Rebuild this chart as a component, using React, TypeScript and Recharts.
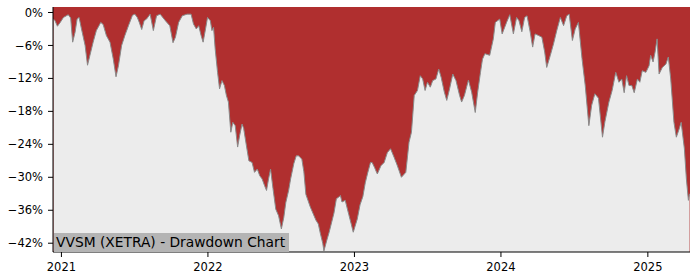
import React from 'react';
import { ComposedChart, Area, XAxis, YAxis, CartesianGrid } from 'recharts';

const dates: string[] = [
  '2020-12-12','2020-12-16','2020-12-22','2020-12-29','2021-01-06','2021-01-18','2021-01-24','2021-01-29','2021-02-04','2021-02-09',
  '2021-02-14','2021-02-20','2021-03-01','2021-03-07','2021-03-13','2021-03-21','2021-03-29','2021-04-09','2021-04-15','2021-04-23',
  '2021-05-02','2021-05-10','2021-05-17','2021-05-23','2021-05-31','2021-06-08','2021-06-17','2021-06-27','2021-07-03','2021-07-09',
  '2021-07-14','2021-07-20','2021-07-26','2021-08-01','2021-08-10','2021-08-18','2021-08-26','2021-09-04','2021-09-17','2021-09-28',
  '2021-10-06','2021-10-12','2021-10-20','2021-10-29','2021-11-10','2021-11-20','2021-11-26','2021-12-03','2021-12-09','2021-12-15',
  '2021-12-20','2021-12-26','2021-12-31','2022-01-07','2022-01-11','2022-01-15','2022-01-19','2022-01-25','2022-01-30','2022-02-05',
  '2022-02-11','2022-02-16','2022-02-21','2022-02-27','2022-03-04','2022-03-10','2022-03-16','2022-03-21','2022-03-27','2022-03-31',
  '2022-04-07','2022-04-13','2022-04-21','2022-04-27','2022-05-04','2022-05-10','2022-05-16','2022-05-22','2022-05-27','2022-06-01',
  '2022-06-06','2022-06-12','2022-06-19','2022-06-26','2022-07-03','2022-07-09','2022-07-14','2022-07-21','2022-07-26','2022-08-03',
  '2022-08-09','2022-08-15','2022-08-23','2022-08-28','2022-09-02','2022-09-13','2022-09-27','2022-10-03','2022-10-08','2022-10-14',
  '2022-10-17','2022-10-24','2022-10-30','2022-11-11','2022-11-17','2022-11-23','2022-11-27','2022-12-01','2022-12-09','2022-12-18',
  '2022-12-24','2022-12-29','2023-01-08','2023-01-15','2023-01-22','2023-01-28','2023-02-03','2023-02-10','2023-02-14','2023-02-20',
  '2023-02-27','2023-03-08','2023-03-16','2023-03-24','2023-04-01','2023-04-10','2023-04-18','2023-04-28','2023-05-09','2023-05-17',
  '2023-05-23','2023-05-30','2023-06-07','2023-06-14','2023-06-20','2023-06-26','2023-07-02','2023-07-09','2023-07-15','2023-07-23',
  '2023-07-30','2023-08-05','2023-08-13','2023-08-19','2023-08-26','2023-09-03','2023-09-11','2023-09-20','2023-09-25','2023-10-02',
  '2023-10-12','2023-10-20','2023-10-29','2023-11-04','2023-11-11','2023-11-16','2023-11-22','2023-12-04','2023-12-13','2023-12-18',
  '2023-12-29','2024-01-04','2024-01-15','2024-01-23','2024-02-01','2024-02-09','2024-02-15','2024-02-22','2024-02-29','2024-03-06',
  '2024-03-14','2024-03-20','2024-03-26','2024-04-04','2024-04-12','2024-04-19','2024-04-24','2024-05-03','2024-05-11','2024-05-19',
  '2024-05-28','2024-06-05','2024-06-13','2024-06-19','2024-06-27','2024-07-04','2024-07-12','2024-07-21','2024-07-29','2024-08-07',
  '2024-08-14','2024-08-22','2024-08-31','2024-09-10','2024-09-16','2024-09-26','2024-10-04','2024-10-13','2024-10-21','2024-10-28',
  '2024-11-03','2024-11-09','2024-11-15','2024-11-22','2024-11-28','2024-12-06','2024-12-12','2024-12-18','2024-12-27','2025-01-04',
  '2025-01-08','2025-01-14','2025-01-19','2025-01-24','2025-01-29','2025-02-06','2025-02-15','2025-02-21','2025-02-27','2025-03-07',
  '2025-03-13','2025-03-20','2025-03-25','2025-04-02','2025-04-07','2025-04-12','2025-04-15',
];

const drawdown: number[] = [
  -1.2,-1.5,-2.5,-1.8,-0.9,-0.4,-1.0,-5.4,-3.6,-1.2,
  -0.9,-3.0,-6.0,-9.6,-7.8,-5.4,-3.3,-1.8,-2.2,-4.2,
  -5.4,-8.4,-11.7,-9.7,-6.0,-4.2,-2.4,-0.5,-0.3,-0.9,
  -1.8,-3.1,-1.5,-1.2,-0.3,-3.3,-0.6,-0.3,-1.5,-2.4,
  -5.5,-4.5,-1.8,-0.6,-0.3,-0.3,-2.1,-3.0,-2.4,-4.2,
  -5.4,-3.0,-0.9,-1.5,-3.3,-2.7,-6.6,-10.9,-13.9,-12.4,
  -13.3,-15.1,-16.3,-21.8,-20.0,-20.6,-24.5,-22.4,-20.3,-21.1,
  -24.3,-27.0,-27.3,-29.1,-28.5,-29.7,-30.3,-31.5,-32.4,-30.3,
  -28.5,-32.0,-35.8,-37.0,-39.4,-37.3,-34.6,-32.4,-30.3,-27.5,
  -26.1,-26.1,-26.7,-29.0,-33.1,-35.4,-37.8,-38.5,-40.2,-42.0,
  -43.4,-41.5,-40.0,-36.5,-33.9,-33.6,-33.3,-34.5,-34.2,-36.8,
  -38.5,-40.0,-37.6,-35.0,-33.5,-31.0,-29.2,-27.3,-27.3,-28.2,
  -29.4,-27.9,-27.3,-25.5,-24.8,-26.4,-27.9,-30.0,-29.1,-23.6,
  -21.8,-15.1,-14.2,-11.5,-12.1,-14.2,-12.7,-13.6,-12.4,-12.1,
  -10.3,-11.8,-14.5,-16.0,-13.9,-11.2,-12.4,-15.1,-16.3,-15.1,
  -12.3,-14.5,-18.2,-14.5,-10.9,-8.5,-7.5,-7.8,-4.8,-1.8,
  -1.2,-3.9,-1.8,-0.4,-3.9,-0.9,-1.5,-3.5,-0.9,-0.6,
  -3.6,-6.3,-3.9,-4.2,-4.5,-7.2,-10.0,-7.8,-5.7,-3.3,
  -0.9,-2.4,-0.6,-0.3,-5.1,-3.0,-1.8,-8.4,-13.3,-20.6,
  -16.9,-14.8,-15.6,-22.7,-19.9,-16.3,-14.2,-10.9,-12.7,-12.1,
  -14.6,-11.5,-13.3,-13.3,-14.6,-12.1,-12.7,-10.6,-10.9,-9.7,
  -7.8,-9.0,-7.2,-4.8,-11.2,-10.0,-9.4,-8.1,-12.1,-20.0,
  -22.7,-21.2,-20.0,-24.8,-30.3,-34.2,-33.0,
];

const yearTicks: string[] = ['2021-01-01', '2022-01-01', '2023-01-01', '2024-01-01', '2025-01-01'];
const yTicks: number[] = [0, -6, -12, -18, -24, -30, -36, -42];
const title = 'VVSM (XETRA) - Drawdown Chart';

const X_MIN = Date.parse('2020-12-11');
const X_MAX = Date.parse('2025-04-16');
const Y_MIN = -43.6;
const Y_MAX = 1.0;

const data = dates.map((d, i) => ({ t: Date.parse(d), dd: drawdown[i] }));
const xTickValues = yearTicks.map((d) => Date.parse(d));

const FONT = '"DejaVu Sans", sans-serif';
const fmtPct = (v: number) => (v < 0 ? '\u2212' + Math.abs(v) + '%' : v + '%');
const fmtYear = (v: number) => String(new Date(v).getUTCFullYear());

export default function App() {
  return (
    <div style={{ position: 'absolute', left: 0, top: 0, width: 700, height: 280, background: '#fff' }}>
      <ComposedChart
        width={700}
        height={280}
        data={data}
        margin={{ top: 7, right: 10, bottom: 0, left: 0 }}
      >
        <CartesianGrid fill="#b02f2f" horizontal={false} vertical={false} stroke="none" />
        <XAxis
          dataKey="t"
          type="number"
          scale="time"
          domain={[X_MIN, X_MAX]}
          ticks={xTickValues}
          tickFormatter={fmtYear}
          height={28}
          tickSize={5}
          tickMargin={6}
          stroke="#000"
          tick={{ fill: '#000', fontSize: 11.5, fontFamily: FONT }}
          allowDataOverflow
        />
        <XAxis
          xAxisId="top"
          orientation="top"
          type="number"
          domain={[0, 1]}
          height={0}
          tick={false}
          tickLine={false}
          stroke="#000"
        />
        <YAxis
          type="number"
          domain={[Y_MIN, Y_MAX]}
          ticks={yTicks}
          tickFormatter={fmtPct}
          width={53}
          tickSize={5}
          tickMargin={5}
          stroke="#000"
          tick={{ fill: '#000', fontSize: 11.5, fontFamily: FONT }}
          allowDataOverflow
        />
        <YAxis
          yAxisId="right"
          orientation="right"
          type="number"
          domain={[0, 1]}
          width={0}
          tick={false}
          tickLine={false}
          stroke="#000"
        />
        <Area
          type="linear"
          dataKey="dd"
          baseValue={Y_MIN}
          fill="#ececec"
          fillOpacity={1}
          stroke="#8a8a8a"
          strokeWidth={1}
          dot={false}
          activeDot={false}
          isAnimationActive={false}
        />
      </ComposedChart>
      <div
        style={{
          position: 'absolute',
          left: 54,
          top: 233,
          width: 235,
          height: 19,
          background: '#b4b4b4',
          fontFamily: FONT,
          fontSize: 13.8,
          lineHeight: '19px',
          color: '#000',
          paddingLeft: 2,
          boxSizing: 'border-box',
          whiteSpace: 'nowrap',
        }}
      >
        {title}
      </div>
    </div>
  );
}
